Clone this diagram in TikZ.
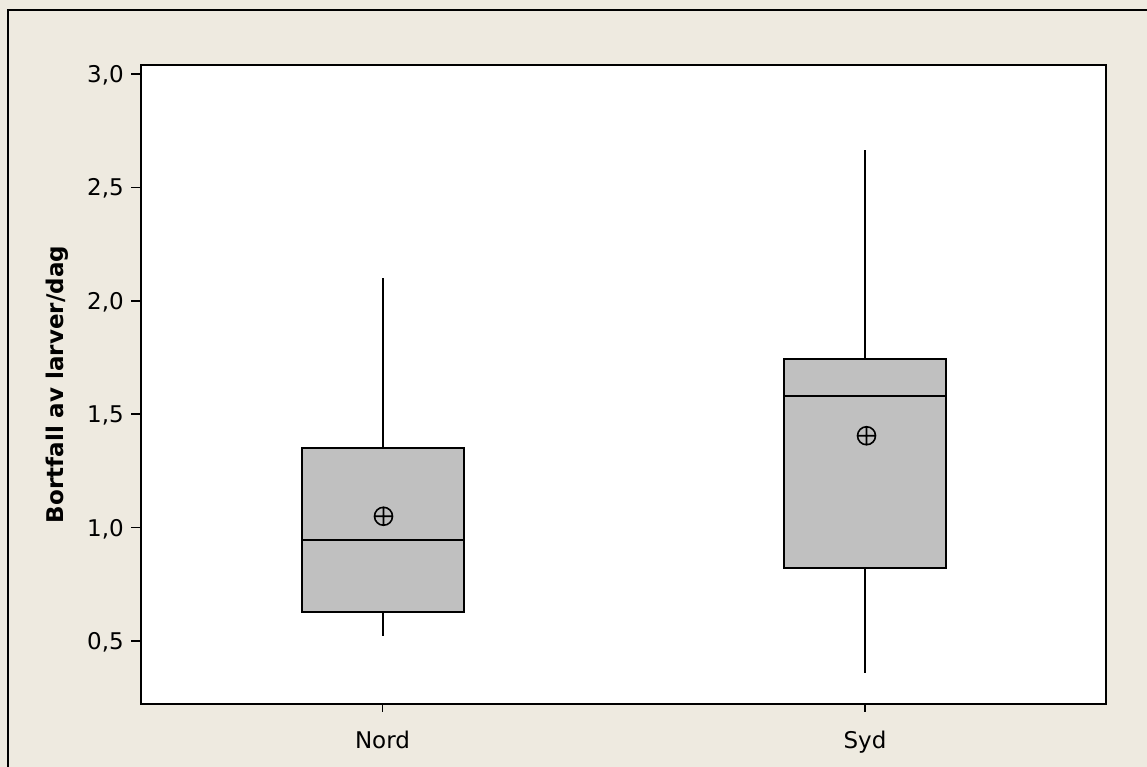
\documentclass[tikz,border=0pt]{standalone}
\usepackage{fontspec}
\setmainfont{DejaVu Sans}
\definecolor{paper}{RGB}{238,234,224}
\definecolor{boxgray}{RGB}{192,192,192}

\begin{document}
\begin{tikzpicture}[x=1pt, y=-1pt,
        frame/.style={draw=black, line width=1.5pt},
        plotarea/.style={draw=black, fill=white, line width=2pt},
        boxbody/.style={draw=black, fill=boxgray, line width=2pt},
        whisker/.style={draw=black, line width=2pt},
        meanmark/.style={draw=black, line width=1.6pt},
        tickmark/.style={draw=black, line width=1.5pt},
        ticklabel/.style={font=\fontsize{23}{27}\selectfont, inner sep=0pt},
        axislabel/.style={font=\fontsize{23}{27}\selectfont\bfseries, inner sep=0pt, rotate=90}
    ]
    % Background
    \fill[paper] (0,0) rectangle (1147,767);
    \useasboundingbox (0,0) rectangle (1147,767);
    \draw[frame] (8,767) -- (8,10) -- (1147,10);
    \draw[plotarea] (141,65) rectangle (1106,704);

    % Axes
    \node[axislabel] (ylabel) at (57,384.5) {Bortfall av larver/dag};
    \draw[tickmark] (382.5,704) -- (382.5,712);
    \draw[tickmark] (865,704) -- (865,712);
    \node[ticklabel, anchor=base] (nord) at (382.5,748) {Nord};
    \node[ticklabel, anchor=base] (syd) at (865,748) {Syd};

    \begin{scope}[yshift=-754.4pt, y=226.8pt]
        \foreach \v/\lab/\n in {0.5/{0,5}/a, 1.0/{1,0}/b, 1.5/{1,5}/c, 2.0/{2,0}/d, 2.5/{2,5}/e, 3.0/{3,0}/f} {
            \draw[tickmark] (131,\v) -- (141,\v);
            \node[ticklabel, anchor=base east, yshift=-8.4pt] (ytick\n) at (124,\v) {\lab};
        }

        % Nord
        \draw[whisker] (382.5,1.35) -- (382.5,2.10);
        \draw[whisker] (382.5,0.63) -- (382.5,0.52);
        \draw[boxbody] (301.5,0.63) rectangle (463.5,1.35);
        \draw[whisker] (301.5,0.945) -- (463.5,0.945);
        \draw[meanmark] (383.5,1.05) circle[radius=9pt]
            (383.5,1.05) ++(-9pt,0) -- ++(18pt,0)
            (383.5,1.05) ++(0,-9pt) -- ++(0,18pt);

        % Syd
        \draw[whisker] (865,1.745) -- (865,2.665);
        \draw[whisker] (865,0.82) -- (865,0.36);
        \draw[boxbody] (783.5,0.82) rectangle (946,1.745);
        \draw[whisker] (783.5,1.58) -- (946,1.58);
        \draw[meanmark] (866.5,1.405) circle[radius=9pt]
            (866.5,1.405) ++(-9pt,0) -- ++(18pt,0)
            (866.5,1.405) ++(0,-9pt) -- ++(0,18pt);
    \end{scope}

\end{tikzpicture}
\end{document}
